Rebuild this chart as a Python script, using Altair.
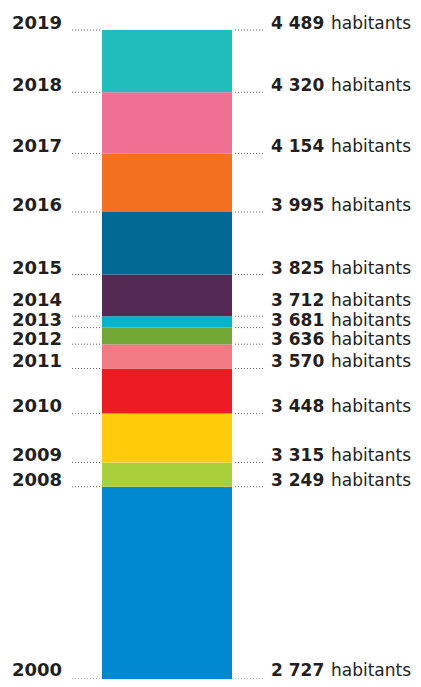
import altair as alt
import pandas as pd

years = [2000, 2008, 2009, 2010, 2011, 2012, 2013, 2014, 2015, 2016, 2017, 2018, 2019]
population = [2727, 3249, 3315, 3448, 3570, 3636, 3681, 3712, 3825, 3995, 4154, 4320, 4489]
segment_colors = ["#0088D1", "#A9CF3A", "#FFCB0A", "#ED1C24", "#F27A85", "#72A735",
                  "#00B5CC", "#542A54", "#006994", "#F37021", "#F07093", "#21BDBD"]

df = pd.DataFrame({"year": years, "pop": population})
df["year_label"] = df["year"].astype(str)
df["pop_label"] = [f"{p:,}".replace(",", " ") for p in population]
df["prev"] = df["pop"].shift(1)
seg = df.dropna().copy()

yscale = alt.Scale(domain=[2727, 4489], range=[671, 22], zero=False, nice=False)
Y = alt.Y("pop:Q", scale=yscale, axis=None)

base = alt.Chart(df)

bars = alt.Chart(seg).mark_rect().encode(
    x=alt.value(94), x2=alt.value(224),
    y=Y, y2="prev:Q",
    color=alt.Color("year_label:N",
                    scale=alt.Scale(domain=list(seg["year_label"]), range=segment_colors),
                    legend=None),
)

rule_style = dict(strokeDash=[1, 2], color="#666666", strokeWidth=1)
left_rules = base.mark_rule(**rule_style).encode(x=alt.value(64), x2=alt.value(92), y=Y)
right_rules = base.mark_rule(**rule_style).encode(x=alt.value(227), x2=alt.value(255), y=Y)

txt = dict(baseline="alphabetic", font="DejaVu Sans", color="#231F20")

def label_layers(flt, dy):
    src = base.transform_filter(flt)
    yrs = src.mark_text(align="right", fontWeight="bold", fontSize=18, dy=dy, **txt).encode(
        x=alt.value(54), y=Y, text="year_label:N")
    nums = src.mark_text(align="left", fontWeight="bold", fontSize=17, dy=dy, **txt).encode(
        x=alt.value(263), y=Y, text="pop_label:N")
    hab = src.mark_text(align="left", fontWeight="normal", fontSize=17, dy=dy, **txt).encode(
        x=alt.value(323), y=Y, text=alt.value("habitants"))
    return [yrs, nums, hab]

layers = [bars, left_rules, right_rules]
layers += label_layers("datum.year > 2000 && datum.year != 2014 && datum.year != 2013 && datum.year != 2012", -1)
layers += label_layers("datum.year == 2014", -10)
layers += label_layers("datum.year == 2013", -2)
layers += label_layers("datum.year == 2012", 1)
layers += label_layers("datum.year == 2000", -3)

chart = alt.layer(*layers).properties(
    width=405, height=671,
    autosize=alt.AutoSizeParams(type="none"),
    padding=0,
).configure(
    background="white",
    view=alt.ViewConfig(stroke="transparent", strokeWidth=0),
)

chart.save("out.html", embed_options={"renderer": "svg", "actions": False})
